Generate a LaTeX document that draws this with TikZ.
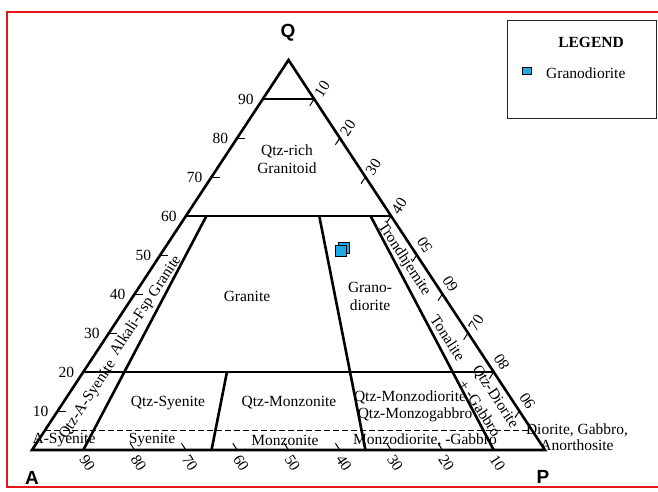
\documentclass[tikz,border=0pt]{standalone}
\usepackage{fontspec}
\setmainfont{Liberation Serif}
\newfontfamily\cornerfont{Liberation Sans}
\usetikzlibrary{calc}
\definecolor{granoblue}{RGB}{32,168,226}
\definecolor{framered}{RGB}{228,24,24}

\begin{document}
\begin{tikzpicture}[x=1pt, y=1pt, every node/.style={font=\fontsize{15.5}{18}\selectfont, inner sep=1pt},
    field/.style={line width=2.6pt},
    tick/.style={line width=1pt},
    corner/.style={font=\cornerfont\bfseries\fontsize{19}{20}\selectfont},
    sample/.style={draw=black, fill=granoblue, minimum size=11pt, inner sep=0pt, line width=0.6pt}]
    \useasboundingbox (0,0) rectangle (658,491);
    \clip (0,0) rectangle (658,491);
    \draw[framered, line width=2pt] (690,479) -- (7,479) -- (7,4) -- (690,4);

    % corners of the QAP triangle
    \coordinate (A) at (32,41);
    \coordinate (P) at (545,41);
    \coordinate (Q) at (288.5,431);
    \draw[field] (A) -- (P) -- (Q) -- cycle;

    % Q levels
    \foreach \q/\name in {0.9/q90, 0.6/q60, 0.2/q20, 0.05/q05} {
        \coordinate (\name l) at ($(A)!\q!(Q)$);
        \coordinate (\name r) at ($(P)!\q!(Q)$);
    }
    \draw[field] (q90l) -- (q90r);
    \draw[field] (q60l) -- (q60r);
    \draw[field] (q20l) -- (q20r);
    \draw[line width=1.8pt, dash pattern=on 6pt off 3pt] (q05l) -- (q05r);

    % P/(A+P) lines
    \foreach \r/\name in {0.1/b10, 0.35/b35, 0.65/b65, 0.9/b90}
        \coordinate (\name) at ($(A)!\r!(P)$);
    \draw[field] (b10) -- ($(b10)!0.6!(Q)$);
    \draw[field] (b35) -- ($(b35)!0.2!(Q)$);
    \draw[field] (b65) -- ($(b65)!0.6!(Q)$);
    \draw[field] (b90) -- ($(b90)!0.6!(Q)$);

    % scales
    \foreach \k in {1,3,4,5,7,8}
        \draw[tick] ($(A)!\k/10!(Q)$) -- ++(8,0);
    \foreach \k in {1,...,9}
        \node[left=8pt] (ql\k) at ($(A)!\k/10!(Q)$) {\k0};
    \foreach \k in {1,...,9}
        \draw[tick] ($(Q)!\k/10!(P)$) -- ++(-4.4,-6.7);
    \foreach \k/\rot in {1/57, 2/57, 3/57, 4/57, 5/123, 6/123, 7/57, 8/123, 9/123}
        \path ($(Q)!\k/10!(P)$) ++(8,10) node[rotate=\rot] (pr\k) {\k0};
    \foreach \k in {2,...,8}
        \draw[tick] ($(A)!\k/10!(P)$) -- ++(-4.4,6.7);
    \foreach \k [evaluate=\k as \v using int(100-10*\k)] in {1,...,9}
        \path ($(A)!\k/10!(P)$) ++(4,-13) node[rotate=-57] (ab\k) {\v};

    % corner letters
    \node[corner] (qlab) at (288,458) {Q};
    \node[corner] (alab) at (32,13) {A};
    \node[corner] (plab) at (543,14) {P};

    % rock fields
    \node[align=center] (qrich) at (287,332) {Qtz-rich\\Granitoid};
    \node (granite) at (247,195) {Granite};
    \node[align=center] (grano) at (370,195) {Grano-\\diorite};
    \node[rotate=56.7] (afgran) at (146,185) {Alkali-Fsp Granite};
    \node[rotate=56.7] (qasyen) at (88,91) {Qtz-A-Syenite};
    \node[rotate=-56.7] (trond) at (404,232) {Trondhjemite};
    \node[rotate=-56.7] (tonal) at (448,153) {Tonalite};
    \node[rotate=-56.7] (gabbro) at (480,83) {+ -Gabbro};
    \node[rotate=-56.7] (qdior) at (495,94) {Qtz-Diorite};
    \node (qsyen) at (168,88) {Qtz-Syenite};
    \node (qmonz) at (289,88) {Qtz-Monzonite};
    \node (qmzd) at (410,94) {Qtz-Monzodiorite};
    \node (qmzg) at (415,76) {Qtz-Monzogabbro};
    \node (asyen) at (64,51) {A-Syenite};
    \node (syen) at (152,51) {Syenite};
    \node (monz) at (285,51) {Monzonite};
    \node (monzd) at (425,51) {Monzodiorite, -Gabbro};
    \node[align=center, font=\fontsize{15.5}{16}\selectfont] (dior) at (577,54) {Diorite, Gabbro,\\Anorthosite};

    % samples
    \node[sample] (s1) at (343.5,243) {};
    \node[sample] (s2) at (340.5,240) {};

    % legend
    \draw[line width=0.9pt, black!85] (507,373) rectangle (656,471);
    \node[font=\bfseries\fontsize{15.5}{18}\selectfont] (legtitle) at (591,449) {LEGEND};
    \node[draw=black, fill=granoblue, minimum width=9pt, minimum height=7pt, inner sep=0pt, line width=0.6pt] (legsym) at (527,420) {};
    \node[anchor=west] (legtext) at (545,418) {Granodiorite};
\end{tikzpicture}
\end{document}
